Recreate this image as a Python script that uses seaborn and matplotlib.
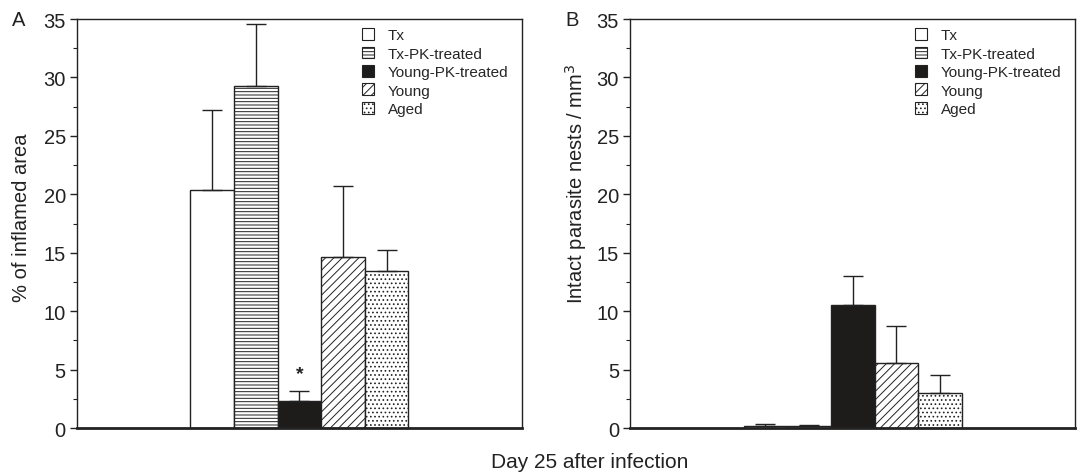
import numpy as np
import pandas as pd
import matplotlib
matplotlib.use("Agg")
import matplotlib.pyplot as plt
import seaborn as sns
from matplotlib.patches import Patch
from matplotlib.ticker import MultipleLocator

groups = ["Tx", "Tx-PK-treated", "Young-PK-treated", "Young", "Aged"]
inflamed_mean = [20.4, 29.3, 2.3, 14.6, 13.4]
inflamed_upper = [27.2, 34.6, 3.2, 20.7, 15.2]
nests_mean = [0.2, 0.2, 10.5, 5.6, 3.0]
nests_upper = [0.35, 0.25, 13.0, 8.7, 4.5]
day_label = "Day 25 after infection"

sns.set_theme(style="white")
plt.rcParams["font.family"] = ["Liberation Sans", "DejaVu Sans"]
plt.rcParams["hatch.linewidth"] = 0.7

INK = "#222222"
facecolors = ["white", "white", "#1e1b1b", "white", "white"]
hatches = [None, "-----", None, "////", "...."]

fig = plt.figure(figsize=(10.78, 4.77), dpi=100)
axA = fig.add_axes([0.0714, 0.1006, 0.4128, 0.8574])
axB = fig.add_axes([0.5845, 0.1006, 0.4130, 0.8574])


def draw(ax, means, uppers, ylabel, letter, label_pos, star=False):
    df = pd.DataFrame({"day": ["d25"] * len(groups), "group": groups, "value": means})
    sns.barplot(data=df, x="day", y="value", hue="group", hue_order=groups,
                ax=ax, width=0.49, errorbar=None, legend=False,
                palette=["white"] * 5, edgecolor="black", linewidth=1.0)
    bars = [p for p in ax.patches][:len(groups)]
    for bar, fc, h, m, u in zip(bars, facecolors, hatches, means, uppers):
        bar.set_facecolor(fc)
        bar.set_edgecolor(INK)
        if h:
            bar.set_hatch(h)
        cx = bar.get_x() + bar.get_width() / 2
        ax.errorbar([cx], [m], yerr=[[0], [u - m]], fmt="none", ecolor=INK,
                    elinewidth=1.0, capsize=7.5, capthick=1.0, zorder=1)
        if star and fc != "white":
            ax.text(cx, u + 1.5, "*", ha="center", va="center", fontsize=14,
                    fontweight="bold", color=INK)
    ax.set_xlim(-0.5, 0.5)
    ax.set_ylim(0, 35)
    ax.yaxis.set_major_locator(MultipleLocator(5))
    ax.yaxis.set_minor_locator(MultipleLocator(2.5))
    ax.tick_params(axis="y", which="major", direction="out", length=5, width=1,
                   labelsize=14.5, left=True, pad=3, colors=INK)
    ax.tick_params(axis="y", which="minor", direction="out", length=3, width=0.8,
                   left=True, colors=INK)
    ax.tick_params(axis="x", bottom=False, labelbottom=False)
    ax.set_xlabel("")
    ax.set_ylabel(ylabel, fontsize=14.5, color=INK)
    ax.yaxis.set_label_coords(*label_pos)
    for s in ["top", "right", "left"]:
        ax.spines[s].set_visible(True)
        ax.spines[s].set_linewidth(1.0)
        ax.spines[s].set_color(INK)
    ax.spines["bottom"].set_linewidth(2.0)
    ax.spines["bottom"].set_color(INK)
    handles = [Patch(facecolor=fc, edgecolor=INK, hatch=h, linewidth=0.8)
               for fc, h in zip(facecolors, hatches)]
    ax.legend(handles, groups, loc="upper right", frameon=False, fontsize=11,
              handlelength=0.8, handleheight=0.8, handletextpad=0.9,
              labelspacing=0.28, borderaxespad=0.2, bbox_to_anchor=(0.99, 1.0))
    ax.text(-0.13, 1.0, letter, transform=ax.transAxes, fontsize=14.5,
            ha="center", va="center", color=INK)


draw(axA, inflamed_mean, inflamed_upper, "% of inflamed area", "A", (-0.104, 0.516), star=True)
draw(axB, nests_mean, nests_upper, "Intact parasite nests / mm$^3$", "B", (-0.092, 0.60))

fig.text(0.547, 0.031, day_label, ha="center", va="center", fontsize=15, color=INK)

fig.savefig("out.png", dpi=100)
